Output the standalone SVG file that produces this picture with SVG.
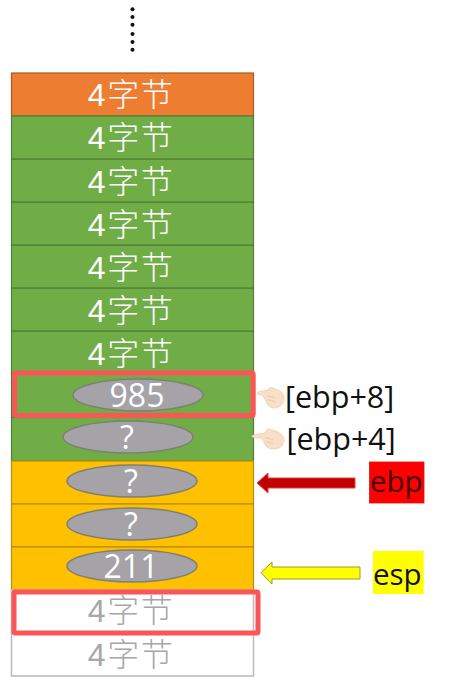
<svg xmlns="http://www.w3.org/2000/svg" width="450" height="693" viewBox="0 0 450 693">
<defs><style>
.o{fill:#ed7d31;stroke:#ae5a21;stroke-width:1.2}
.g{fill:#70ad47;stroke:#507e32;stroke-width:1.2}
.y{fill:#ffc000;stroke:#b98d10;stroke-width:1.2}
.w{fill:#fff;stroke:#bcbcbc;stroke-width:1.6}
.t{font-family:"Liberation Sans","Noto Sans CJK SC",sans-serif;font-size:32px;letter-spacing:1.5px;text-anchor:middle;fill:#fff;font-weight:300}
.tg{fill:#a9a6ab}
.e{fill:#a5a2a8;stroke:#7f7f72;stroke-width:1.5}
.n{font-family:"Open Sans",sans-serif;font-size:32px;text-anchor:middle;fill:#fff}
.l{font-family:"Open Sans",sans-serif;font-size:30.5px;fill:#111}
.b{font-family:"Open Sans",sans-serif;font-size:29.5px;fill:#111}
.h{fill:#f8dfc8;stroke:#e9c9ac;stroke-width:.7}
.r{fill:none;stroke:#fb5558;stroke-width:5}
</style></defs>
<rect width="450" height="693" fill="#fff"/>
<g id="dots" fill="#111"><circle cx="132.5" cy="9.3" r="2"/><circle cx="132.5" cy="17" r="2"/><circle cx="132.5" cy="24.7" r="2"/><circle cx="132.5" cy="34" r="2"/><circle cx="132.5" cy="42" r="2"/><circle cx="132.5" cy="49.7" r="2"/></g>
<g id="row1"><rect class="o" x="11.5" y="73" width="242" height="43"/><text class="t" x="131" y="106">4字节</text></g>
<g id="row2"><rect class="g" x="11.5" y="116" width="242" height="43.2"/><text class="t" x="131" y="149">4字节</text></g>
<g id="row3"><rect class="g" x="11.5" y="159.2" width="242" height="43"/><text class="t" x="131" y="193">4字节</text></g>
<g id="row4"><rect class="g" x="11.5" y="202.2" width="242" height="43"/><text class="t" x="131" y="236">4字节</text></g>
<g id="row5"><rect class="g" x="11.5" y="245.2" width="242" height="43"/><text class="t" x="131" y="279">4字节</text></g>
<g id="row6"><rect class="g" x="11.5" y="288.2" width="242" height="43"/><text class="t" x="131" y="322">4字节</text></g>
<g id="row7"><rect class="g" x="11.5" y="331.2" width="242" height="43"/><text class="t" x="131" y="365">4字节</text></g>
<g id="row8"><rect class="g" x="11.5" y="374.2" width="242" height="43.3"/><ellipse class="e" cx="138" cy="395" rx="65" ry="16"/><text class="n" x="137" y="407">985</text></g>
<g id="row9"><rect class="g" x="11.5" y="417.5" width="242" height="43.5"/><ellipse class="e" cx="128" cy="437" rx="65" ry="16"/><text class="n" x="127" y="449">?</text></g>
<g id="row10"><rect class="y" x="11.5" y="461" width="242" height="43"/><ellipse class="e" cx="132" cy="481" rx="65" ry="16"/><text class="n" x="131" y="493">?</text></g>
<g id="row11"><rect class="y" x="11.5" y="504" width="242" height="43"/><ellipse class="e" cx="132" cy="524" rx="65" ry="16"/><text class="n" x="131" y="536">?</text></g>
<g id="row12"><rect class="y" x="11.5" y="547" width="242" height="43"/><ellipse class="e" cx="132" cy="566" rx="65" ry="16"/><text class="n" x="131" y="578">211</text></g>
<g id="row13"><rect class="w" x="11.5" y="590" width="242" height="43"/><text class="t tg" x="131" y="622">4字节</text></g>
<g id="row14"><rect class="w" x="11.5" y="633" width="242" height="43"/><text class="t tg" x="131" y="666">4字节</text></g>
<g id="highlight1"><rect class="r" x="14.6" y="373" width="238.6" height="42.5" rx="1.5"/></g>
<g id="highlight2"><rect class="r" x="14" y="592" width="244" height="41" rx="1.5"/></g>
<g id="hand1"><path class="h" d="M257 393C258 391 264 391 268 390C269 387 272 387 275 389C280 390 284 393 284 398C284 404 280 408 274 408C270 408 267 405 266 401C264 398 263 396 262 395C260 395 257 395 257 393Z"/><path d="M267 396C270 396 273 397 275 398M268 400C271 400 273 401 275 402" fill="none" stroke="#e3bd9d" stroke-width=".7"/></g>
<g id="hand2"><path class="h" d="M252 436C253 434 261 434 265 433C266 429 269 428 272 430C278 431 284 435 284 440C284 446 279 449 273 449C268 449 265 446 264 442C263 440 262 438 261 438C258 438 252 438 252 436Z"/><path d="M265 438C268 438 271 439 273 440M266 442C269 442 271 443 273 444" fill="none" stroke="#e3bd9d" stroke-width=".7"/></g>
<g id="label-ebp8"><text class="l" x="285" y="408">[ebp+8]</text></g>
<g id="label-ebp4"><text class="l" x="286.5" y="450">[ebp+4]</text></g>
<g id="connectors">
<path d="M257 483L268 473V478H355V488H268V493Z" fill="#c00000" stroke="#e0403f" stroke-width="1"/>
<path d="M261 572.7L272 562V567H360V579H272V584Z" fill="#ffff00" stroke="#9a9a2a" stroke-width="1"/>
</g>
<g id="ebp"><rect x="369.5" y="462" width="54.5" height="41" fill="#ff0000" stroke="#d81010" stroke-width=".8"/><text class="b" x="370" y="492" style="fill:#400">ebp</text></g>
<g id="esp"><rect x="373" y="551" width="50.7" height="43" fill="#ffff00"/><text class="b" x="373" y="585">esp</text></g>
</svg>
